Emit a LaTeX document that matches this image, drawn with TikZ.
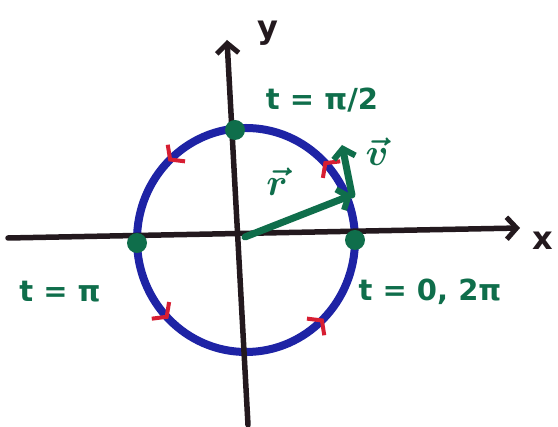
\RequirePackage{fix-cm}
\documentclass[tikz,border=0pt]{standalone}
\usepackage{fontspec}
\newfontfamily\lblfont{DejaVu Sans}
\usetikzlibrary{arrows.meta,decorations.markings}
\definecolor{axblack}{RGB}{35,25,30}
\definecolor{cblue}{RGB}{30,35,165}
\definecolor{pgreen}{RGB}{15,110,75}
\definecolor{mred}{RGB}{215,30,50}
\begin{document}
\begin{tikzpicture}[x=1pt,y=1pt,
  axis/.style={line width=5.5pt, draw=axblack, line cap=round, -{Straight Barb[length=10pt,width=22pt,line width=5pt]}},
  curve/.style={line width=8pt, draw=cblue},
  pt/.style={circle, fill=pgreen, minimum size=20pt, inner sep=0pt},
  lbl/.style={text=pgreen, font=\lblfont\bfseries\fontsize{29}{32}\selectfont},
  axlbl/.style={text=axblack, font=\lblfont\bfseries\fontsize{32}{34}\selectfont},
  vecl/.style={text=pgreen, font=\fontsize{38}{40}\selectfont\boldmath},
  vec/.style={line width=7pt, draw=pgreen, line cap=round, -{Straight Barb[length=9pt,width=22pt,line width=6pt]}},
  redmark/.style={decoration={markings, mark=at position #1 with {\arrow[mred, line width=4pt]{Straight Barb[length=9pt,width=24pt]}}}, postaction={decorate}}
]
\useasboundingbox (0,0) rectangle (558,427);
\fill[white] (0,0) rectangle (558,427);
% named points
\coordinate (O) at (245,190);
\coordinate (xl) at (8,189);
\coordinate (xr) at (520,199);
\coordinate (yb) at (248,2);
\coordinate (yt) at (227,387);
\coordinate (C) at (246,187);
% circle
\draw[curve] (C) ellipse [x radius=109, y radius=112];
\path[redmark=0.125] (C) ellipse [x radius=109, y radius=112];
\path[redmark=0.375] (C) ellipse [x radius=109, y radius=112];
\path[redmark=0.625] (C) ellipse [x radius=109, y radius=112];
\path[redmark=0.875] (C) ellipse [x radius=109, y radius=112];
% axes
\draw[axis] (xl) -- (xr);
\draw[axis] (yb) -- (yt);
\node[axlbl] (xlab) at (543,186) {x};
\node[axlbl] (ylab) at (268,394) {y};
% points
\node[pt] (ptop) at (235,297) {};
\node[pt] (pleft) at (137,184) {};
\node[pt] (pright) at (355,187) {};
% vectors
\coordinate (rtip) at (352,232);
\coordinate (vtip) at (342,282);
\draw[vec] (O) -- (rtip);
\draw[vec] (rtip) -- (vtip);
\node[vecl] (rlab) at (277,245) {$\vec{r}$};
\node[vecl] (vlab) at (377,275) {$\vec{v}$};
% labels
\node[lbl] (ltop) at (322,327) {t = π/2};
\node[lbl] (lleft) at (60,135) {t = π};
\node[lbl] (lright) at (430,135) {t = 0, 2π};
\end{tikzpicture}
\end{document}
